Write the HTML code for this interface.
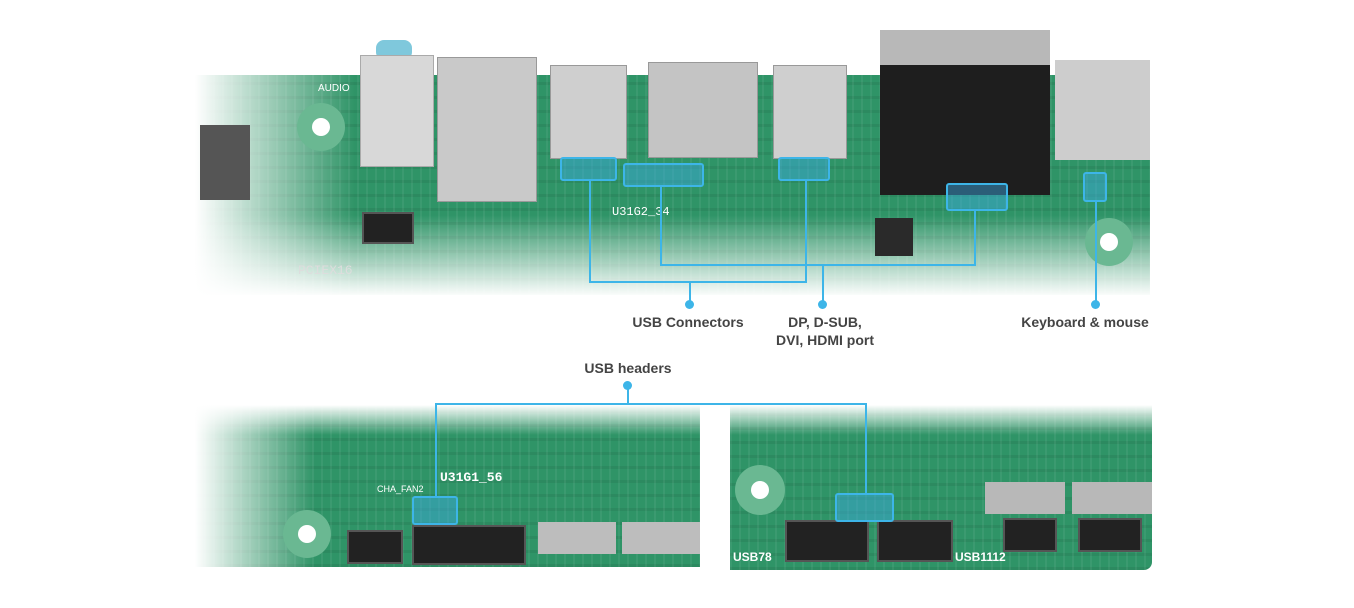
<!DOCTYPE html>
<html><head><meta charset="utf-8"><style>
body{margin:0;width:1354px;height:608px;background:#fff;position:relative;overflow:hidden;font-family:"Liberation Sans",sans-serif}
.a{position:absolute}
.board{background:#2f9467;background-image:repeating-linear-gradient(90deg,rgba(255,255,255,.06) 0 2px,transparent 2px 9px),repeating-linear-gradient(0deg,rgba(0,0,0,.07) 0 3px,transparent 3px 14px)}
.hl{position:absolute;border:2px solid #3db5e8;background:rgba(60,170,230,.45);border-radius:3px}
.ln{position:absolute;background:#3db5e8}
.dot{position:absolute;width:9px;height:9px;border-radius:50%;background:#3db5e8}
.lbl{position:absolute;font-size:14px;font-weight:bold;color:#444;text-align:center;line-height:18px}
.chip{position:absolute;background:#2a2a2a}
.hdr{position:absolute;background:#222;border:2px solid #555}
</style></head><body>
<!-- top board -->
<div class="a board" style="left:195px;top:75px;width:955px;height:220px"></div>
<div class="a" style="left:195px;top:75px;width:160px;height:220px;background:linear-gradient(90deg,#fff,rgba(255,255,255,0))"></div>
<div class="a" style="left:195px;top:215px;width:955px;height:82px;background:linear-gradient(180deg,rgba(255,255,255,0),#fff)"></div>
<div class="chip" style="left:200px;top:125px;width:50px;height:75px;background:#555"></div>
<div class="a" style="left:297px;top:103px;width:48px;height:48px;border-radius:50%;background:#6ab892"></div>
<div class="a" style="left:312px;top:118px;width:18px;height:18px;border-radius:50%;background:#fff"></div>
<div class="a" style="left:376px;top:40px;width:36px;height:20px;border-radius:8px;background:#7fc8dc"></div>
<div class="a" style="left:360px;top:55px;width:72px;height:110px;background:#d8d8d8;border:1px solid #aaa"></div>
<div class="a" style="left:437px;top:57px;width:98px;height:143px;background:#c9c9c9;border:1px solid #999"></div>
<div class="a" style="left:550px;top:65px;width:75px;height:92px;background:#cfcfcf;border:1px solid #999"></div>
<div class="a" style="left:648px;top:62px;width:108px;height:94px;background:#c4c4c4;border:1px solid #999"></div>
<div class="a" style="left:773px;top:65px;width:72px;height:92px;background:#cfcfcf;border:1px solid #999"></div>
<div class="a" style="left:880px;top:30px;width:170px;height:40px;background:#b8b8b8"></div>
<div class="a" style="left:880px;top:65px;width:170px;height:130px;background:#1e1e1e"></div>
<div class="a" style="left:1055px;top:60px;width:95px;height:100px;background:#cdcdcd"></div>
<div class="hdr" style="left:362px;top:212px;width:48px;height:28px"></div>
<div class="chip" style="left:875px;top:218px;width:38px;height:38px"></div>
<div class="a" style="left:1085px;top:218px;width:48px;height:48px;border-radius:50%;background:#6ab892"></div>
<div class="a" style="left:1100px;top:233px;width:18px;height:18px;border-radius:50%;background:#fff"></div>
<div class="a" style="left:318px;top:83px;color:#fff;font-size:10px">AUDIO</div>
<div class="a" style="left:298px;top:263px;color:#ddd;font-size:13px;font-family:'Liberation Mono',monospace">PCIEX16</div>
<div class="a" style="left:612px;top:205px;color:#fff;font-size:12px;font-family:'Liberation Mono',monospace">U31G2_34</div>
<!-- highlight boxes top -->
<div class="hl" style="left:560px;top:157px;width:53px;height:20px"></div>
<div class="hl" style="left:623px;top:163px;width:77px;height:20px"></div>
<div class="hl" style="left:778px;top:157px;width:48px;height:20px"></div>
<div class="hl" style="left:946px;top:183px;width:58px;height:24px"></div>
<div class="hl" style="left:1083px;top:172px;width:20px;height:26px"></div>
<!-- lines top -->
<div class="ln" style="left:589px;top:180px;width:2px;height:103px"></div>
<div class="ln" style="left:589px;top:281px;width:218px;height:2px"></div>
<div class="ln" style="left:805px;top:180px;width:2px;height:103px"></div>
<div class="ln" style="left:689px;top:281px;width:2px;height:22px"></div>
<div class="dot" style="left:685px;top:300px"></div>
<div class="ln" style="left:660px;top:185px;width:2px;height:81px"></div>
<div class="ln" style="left:660px;top:264px;width:316px;height:2px"></div>
<div class="ln" style="left:974px;top:209px;width:2px;height:57px"></div>
<div class="ln" style="left:822px;top:264px;width:2px;height:39px"></div>
<div class="dot" style="left:818px;top:300px"></div>
<div class="ln" style="left:1095px;top:200px;width:2px;height:103px"></div>
<div class="dot" style="left:1091px;top:300px"></div>
<div class="lbl" style="left:618px;top:313px;width:140px">USB Connectors</div>
<div class="lbl" style="left:750px;top:313px;width:150px">DP, D-SUB,<br>DVI, HDMI port</div>
<div class="lbl" style="left:1010px;top:313px;width:150px">Keyboard &amp; mouse</div>
<div class="lbl" style="left:558px;top:359px;width:140px">USB headers</div>
<!-- bottom boards -->
<div class="a board" style="left:195px;top:405px;width:505px;height:162px"></div>
<div class="a board" style="left:730px;top:405px;width:422px;height:165px;border-radius:0 0 8px 0"></div>
<div class="a" style="left:195px;top:405px;width:120px;height:165px;background:linear-gradient(90deg,#fff,rgba(255,255,255,0))"></div>
<div class="a" style="left:195px;top:405px;width:960px;height:30px;background:linear-gradient(180deg,#fff,rgba(255,255,255,0))"></div>
<div class="a" style="left:283px;top:510px;width:48px;height:48px;border-radius:50%;background:#6ab892"></div>
<div class="a" style="left:298px;top:525px;width:18px;height:18px;border-radius:50%;background:#fff"></div>
<div class="a" style="left:735px;top:465px;width:50px;height:50px;border-radius:50%;background:#6ab892"></div>
<div class="a" style="left:751px;top:481px;width:18px;height:18px;border-radius:50%;background:#fff"></div>
<div class="hdr" style="left:347px;top:530px;width:52px;height:30px"></div>
<div class="hdr" style="left:412px;top:525px;width:110px;height:36px"></div>
<div class="a" style="left:538px;top:522px;width:78px;height:32px;background:#bdbdbd"></div>
<div class="a" style="left:622px;top:522px;width:78px;height:32px;background:#bdbdbd"></div>
<div class="hdr" style="left:785px;top:520px;width:80px;height:38px"></div>
<div class="hdr" style="left:877px;top:520px;width:72px;height:38px"></div>
<div class="a" style="left:985px;top:482px;width:80px;height:32px;background:#b8b8b8"></div>
<div class="a" style="left:1072px;top:482px;width:80px;height:32px;background:#b8b8b8"></div>
<div class="hdr" style="left:1003px;top:518px;width:50px;height:30px"></div>
<div class="hdr" style="left:1078px;top:518px;width:60px;height:30px"></div>
<div class="a" style="left:440px;top:470px;color:#fff;font-size:13px;font-weight:bold;font-family:'Liberation Mono',monospace">U31G1_56</div>
<div class="a" style="left:377px;top:484px;color:#fff;font-size:9px">CHA_FAN2</div>
<div class="a" style="left:733px;top:550px;color:#fff;font-size:12px;font-weight:bold">USB78</div>
<div class="a" style="left:955px;top:550px;color:#fff;font-size:12px;font-weight:bold">USB1112</div>
<!-- bottom highlights -->
<div class="hl" style="left:412px;top:496px;width:42px;height:25px"></div>
<div class="hl" style="left:835px;top:493px;width:55px;height:25px"></div>
<div class="ln" style="left:435px;top:403px;width:432px;height:2px"></div>
<div class="ln" style="left:435px;top:403px;width:2px;height:94px"></div>
<div class="ln" style="left:865px;top:403px;width:2px;height:91px"></div>
<div class="ln" style="left:627px;top:385px;width:2px;height:19px"></div>
<div class="dot" style="left:623px;top:381px"></div>
</body></html>
